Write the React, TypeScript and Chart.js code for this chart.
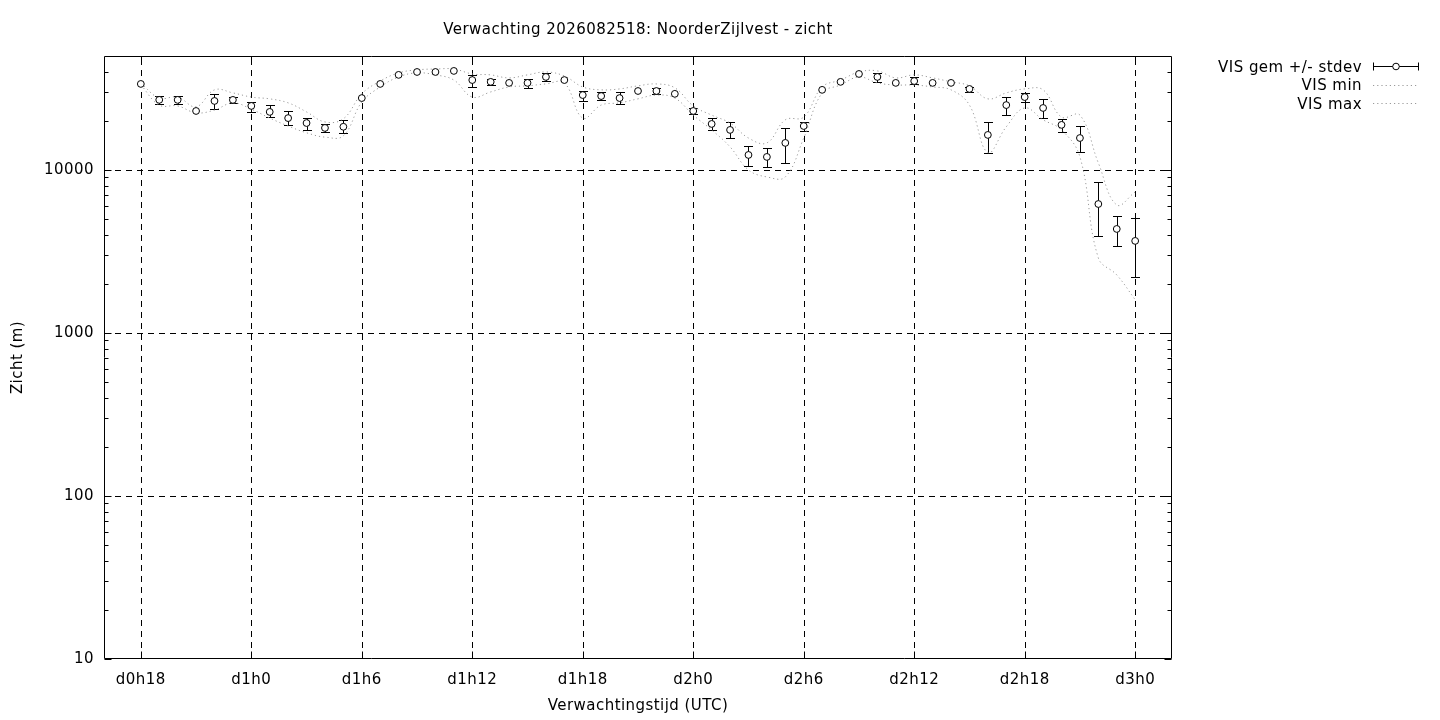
import React, { useEffect, useRef } from "react";
import { Chart, registerables } from "chart.js";

Chart.register(...registerables);

const FONT = "'DejaVu Sans', 'Liberation Sans', sans-serif";
const TITLE = "Verwachting 2026082518: NoorderZijlvest - zicht";
const X_TITLE = "Verwachtingstijd (UTC)";
const Y_TITLE = "Zicht (m)";
const LEGEND_LABELS = ["VIS gem +/- stdev", "VIS min", "VIS max"];

// forecast hour (hours since d0h0)
const hours = [
  18, 19, 20, 21, 22, 23, 24, 25, 26, 27, 28, 29, 30, 31, 32, 33, 34, 35, 36,
  37, 38, 39, 40, 41, 42, 43, 44, 45, 46, 47, 48, 49, 50, 51, 52, 53, 54, 55,
  56, 57, 58, 59, 60, 61, 62, 63, 64, 65, 66, 67, 68, 69, 70, 71, 72,
];

const visMean = [
  33700, 26900, 26900, 23000, 26500, 26900, 24700, 22700, 20800, 19400, 18100, 18400, 27600, 33700, 38300, 39900, 39900, 40500, 35600,
  34700, 34200, 34200, 37200, 35600, 28800, 28400, 27600, 30500, 30500, 29300, 23000, 19150, 17600, 12360, 12020, 14650, 18600, 31000,
  34700, 38800, 37200, 34200, 35100, 34200, 34200, 31400, 16400, 25000, 28000, 24000, 18900, 15700, 6180, 4345, 3670,
];

const visLo = [
  33700, 25400, 25400, 23000, 23600, 25800, 22700, 21100, 18900, 17600, 17100, 16900, 27600, 33700, 38300, 39900, 39900, 40500, 32300,
  33200, 34200, 31900, 35100, 35600, 26500, 26900, 25400, 30500, 29300, 29300, 22100, 17600, 15700, 10580, 10430, 11040, 17300, 31000,
  34700, 38800, 34700, 34200, 33700, 34200, 34200, 30100, 12700, 21700, 26100, 20800, 17100, 12900, 3940, 3420, 2210,
];

const visHi = [
  33700, 28400, 28400, 23000, 29300, 28000, 26100, 25000, 23000, 20800, 19150, 20300, 27600, 33700, 38300, 39900, 39900, 40500, 38300,
  36200, 34200, 36200, 39400, 35600, 30500, 30100, 30100, 30500, 31900, 29300, 24000, 20800, 19700, 14000, 13650, 18100, 19700, 31000,
  34700, 38800, 39400, 34200, 37200, 34200, 34200, 32300, 19700, 28000, 29700, 27300, 20600, 18600, 8440, 5220, 5080,
];

const visMin = [
  33300, 25000, 24700, 22400, 23300, 25800, 23600, 20800, 18600, 16900, 15900, 16200, 26100, 32300, 37200, 39400, 38300, 35600, 28000,
  30100, 32300, 32800, 33700, 34200, 20800, 25000, 25800, 27300, 28800, 27600, 21700, 17600, 13850, 10000, 9060, 9060, 15700, 29700,
  33200, 37200, 34200, 33200, 33200, 32300, 31000, 25000, 12800, 18400, 24000, 20300, 17600, 12020, 2885, 2270, 1600,
];

const visMax = [
  34100, 27600, 28000, 24400, 31000, 29700, 28000, 27300, 25800, 22700, 19700, 20600, 29300, 35100, 39400, 41100, 41600, 41600, 38800,
  38300, 36700, 38300, 39900, 37700, 32300, 31000, 31400, 32800, 33700, 31900, 24700, 21700, 19400, 15700, 14650, 20300, 21100, 32300,
  35600, 39900, 40500, 36700, 38300, 36700, 34700, 32800, 27300, 29700, 31400, 31000, 21100, 21700, 11040, 6100, 7330,
];

const xTicks = [18, 24, 30, 36, 42, 48, 54, 60, 66, 72];
const xTickLabels = ["d0h18", "d1h0", "d1h6", "d1h12", "d1h18", "d2h0", "d2h6", "d2h12", "d2h18", "d3h0"];
const yTicks = [10, 100, 1000, 10000];
const yTickLabels = ["10", "100", "1000", "10000"];
const yMinorTicks = [
  20, 30, 40, 50, 60, 70, 80, 90,
  200, 300, 400, 500, 600, 700, 800, 900,
  2000, 3000, 4000, 5000, 6000, 7000, 8000, 9000,
  20000, 30000, 40000,
];

const X_MIN = 16;
const X_MAX = 74;
const Y_MIN = 10;
const Y_MAX = 50000;

const DOT_COLOR = "#9a9a9a";
const DOT_DASH = [1.2, 3];
const LETTER_SPACING = "0.45px";

const gnuplotPlugin = {
  id: "gnuplotLook",
  beforeDraw(chart: any) {
    (chart.ctx as any).letterSpacing = LETTER_SPACING;
  },
  beforeDatasetsDraw(chart: any) {
    const { ctx, chartArea: a } = chart;
    const x = chart.scales.x;
    const y = chart.scales.y;
    ctx.save();
    ctx.strokeStyle = "#000";
    ctx.lineWidth = 1;
    ctx.setLineDash([6, 5]);
    ctx.beginPath();
    for (const t of xTicks) {
      const px = Math.round(x.getPixelForValue(t)) + 0.5;
      ctx.moveTo(px, a.bottom);
      ctx.lineTo(px, a.top);
    }
    for (const t of yTicks) {
      const py = Math.round(y.getPixelForValue(t)) + 0.5;
      if (py > a.bottom - 2) continue;
      ctx.moveTo(a.left, py);
      ctx.lineTo(a.right, py);
    }
    ctx.stroke();
    ctx.setLineDash([]);
    ctx.beginPath();
    hours.forEach((h, i) => {
      const lo = visLo[i];
      const hi = visHi[i];
      if (!(hi > lo)) return;
      const px = Math.round(x.getPixelForValue(h)) + 0.5;
      const pl = Math.round(y.getPixelForValue(lo)) + 0.5;
      const ph = Math.round(y.getPixelForValue(hi)) + 0.5;
      ctx.moveTo(px, pl);
      ctx.lineTo(px, ph);
      ctx.moveTo(px - 4.5, pl);
      ctx.lineTo(px + 4.5, pl);
      ctx.moveTo(px - 4.5, ph);
      ctx.lineTo(px + 4.5, ph);
    });
    ctx.stroke();
    ctx.restore();
  },
  afterDatasetsDraw(chart: any) {
    const { ctx, chartArea: a } = chart;
    const x = chart.scales.x;
    const y = chart.scales.y;
    const L = Math.round(a.left) + 0.5;
    const R = Math.round(a.right) - 0.5;
    const T = Math.round(a.top) + 0.5;
    const B = Math.round(a.bottom) - 0.5;
    ctx.save();
    ctx.strokeStyle = "#000";
    ctx.lineWidth = 1;
    ctx.beginPath();
    ctx.rect(L, T, R - L, B - T);
    for (const t of yTicks) {
      const py = Math.round(y.getPixelForValue(t)) + 0.5;
      ctx.moveTo(L, py);
      ctx.lineTo(L + 7, py);
      ctx.moveTo(R, py);
      ctx.lineTo(R - 7, py);
    }
    for (const t of yMinorTicks) {
      const py = Math.round(y.getPixelForValue(t)) + 0.5;
      ctx.moveTo(L, py);
      ctx.lineTo(L + 4, py);
      ctx.moveTo(R, py);
      ctx.lineTo(R - 4, py);
    }
    for (const t of xTicks) {
      const px = Math.round(x.getPixelForValue(t)) + 0.5;
      ctx.moveTo(px, B);
      ctx.lineTo(px, B - 7);
      ctx.moveTo(px, T);
      ctx.lineTo(px, T + 7);
    }
    ctx.stroke();
    ctx.restore();
  },
  afterDraw(chart: any) {
    const { ctx, chartArea: a } = chart;
    ctx.save();
    (ctx as any).letterSpacing = LETTER_SPACING;
    ctx.fillStyle = "#000";
    ctx.font = `15px ${FONT}`;
    ctx.textBaseline = "middle";
    ctx.textAlign = "center";
    ctx.fillText(TITLE, (a.left + a.right) / 2, 30.5);

    const textX = 1362;
    const sx0 = 1373;
    const sx1 = 1419;
    const rows = [66, 84.5, 103];
    ctx.textAlign = "right";
    LEGEND_LABELS.forEach((lbl, i) => ctx.fillText(lbl, textX, rows[i] + 1.8));

    ctx.strokeStyle = "#000";
    ctx.lineWidth = 1;
    const r0 = Math.round(rows[0]) + 0.5;
    ctx.beginPath();
    ctx.moveTo(sx0, r0);
    ctx.lineTo(sx1, r0);
    ctx.moveTo(sx0 + 0.5, r0 - 4);
    ctx.lineTo(sx0 + 0.5, r0 + 4);
    ctx.moveTo(sx1 - 0.5, r0 - 4);
    ctx.lineTo(sx1 - 0.5, r0 + 4);
    ctx.stroke();
    ctx.beginPath();
    ctx.arc((sx0 + sx1) / 2, r0, 3.3, 0, Math.PI * 2);
    ctx.fillStyle = "#fff";
    ctx.fill();
    ctx.stroke();

    ctx.strokeStyle = DOT_COLOR;
    ctx.setLineDash(DOT_DASH);
    for (const ry of [rows[1], rows[2]]) {
      const yy = Math.round(ry) + 0.5;
      ctx.beginPath();
      ctx.moveTo(sx0, yy);
      ctx.lineTo(sx1, yy);
      ctx.stroke();
    }
    ctx.restore();
  },
};

export default function App() {
  const canvasRef = useRef<HTMLCanvasElement | null>(null);

  useEffect(() => {
    document.body.style.margin = "0";
    document.body.style.background = "#fff";
    const canvas = canvasRef.current;
    if (!canvas) return;

    const toXY = (vals: number[]) => hours.map((h, i) => ({ x: h, y: vals[i] }));

    const chart = new Chart(canvas, {
      type: "line",
      data: {
        datasets: [
          {
            label: LEGEND_LABELS[0],
            data: toXY(visMean),
            showLine: false,
            pointStyle: "circle",
            pointRadius: 3.4,
            pointBorderWidth: 1,
            pointBorderColor: "#000",
            pointBackgroundColor: "#fff",
            borderColor: "#000",
            backgroundColor: "#fff",
          },
          {
            label: LEGEND_LABELS[1],
            data: toXY(visMin),
            borderColor: DOT_COLOR,
            borderWidth: 1,
            borderDash: DOT_DASH,
            pointRadius: 0,
            tension: 0.4,
            fill: false,
          },
          {
            label: LEGEND_LABELS[2],
            data: toXY(visMax),
            borderColor: DOT_COLOR,
            borderWidth: 1,
            borderDash: DOT_DASH,
            pointRadius: 0,
            tension: 0.4,
            fill: false,
          },
        ],
      },
      options: {
        animation: false,
        responsive: false,
        devicePixelRatio: 1,
        events: [],
        layout: { padding: { top: 56, right: 268, left: 0, bottom: 0 } },
        plugins: {
          legend: { display: false },
          title: { display: false },
          tooltip: { enabled: false },
        },
        scales: {
          x: {
            type: "linear",
            min: X_MIN,
            max: X_MAX,
            afterBuildTicks: (s: any) => {
              s.ticks = xTicks.map((v) => ({ value: v }));
            },
            afterFit: (s: any) => {
              s.height = 61;
            },
            ticks: {
              autoSkip: false,
              maxRotation: 0,
              padding: 12,
              color: "#000",
              font: { family: FONT, size: 15 },
              callback: (v: any) => {
                const i = xTicks.indexOf(Number(v));
                return i >= 0 ? xTickLabels[i] : "";
              },
            },
            grid: { display: false, drawTicks: false },
            border: { display: false },
            title: {
              display: true,
              text: X_TITLE,
              color: "#000",
              font: { family: FONT, size: 15 },
              padding: { top: 0, bottom: 5 },
            },
          },
          y: {
            type: "logarithmic",
            min: Y_MIN,
            max: Y_MAX,
            afterBuildTicks: (s: any) => {
              s.ticks = yTicks.map((v) => ({ value: v }));
            },
            afterFit: (s: any) => {
              s.width = 104;
            },
            ticks: {
              autoSkip: false,
              padding: 10,
              color: "#000",
              font: { family: FONT, size: 15 },
              callback: (v: any) => {
                const i = yTicks.indexOf(Number(v));
                return i >= 0 ? yTickLabels[i] : "";
              },
            },
            grid: { display: false, drawTicks: false },
            border: { display: false },
            title: {
              display: true,
              text: Y_TITLE,
              color: "#000",
              font: { family: FONT, size: 15 },
              padding: { top: 9, bottom: 0 },
            },
          },
        },
      },
      plugins: [gnuplotPlugin],
    } as any);

    return () => chart.destroy();
  }, []);

  return (
    <div style={{ width: 1440, height: 720, background: "#fff" }}>
      <canvas ref={canvasRef} width={1440} height={720} style={{ display: "block", width: 1440, height: 720 }} />
    </div>
  );
}
